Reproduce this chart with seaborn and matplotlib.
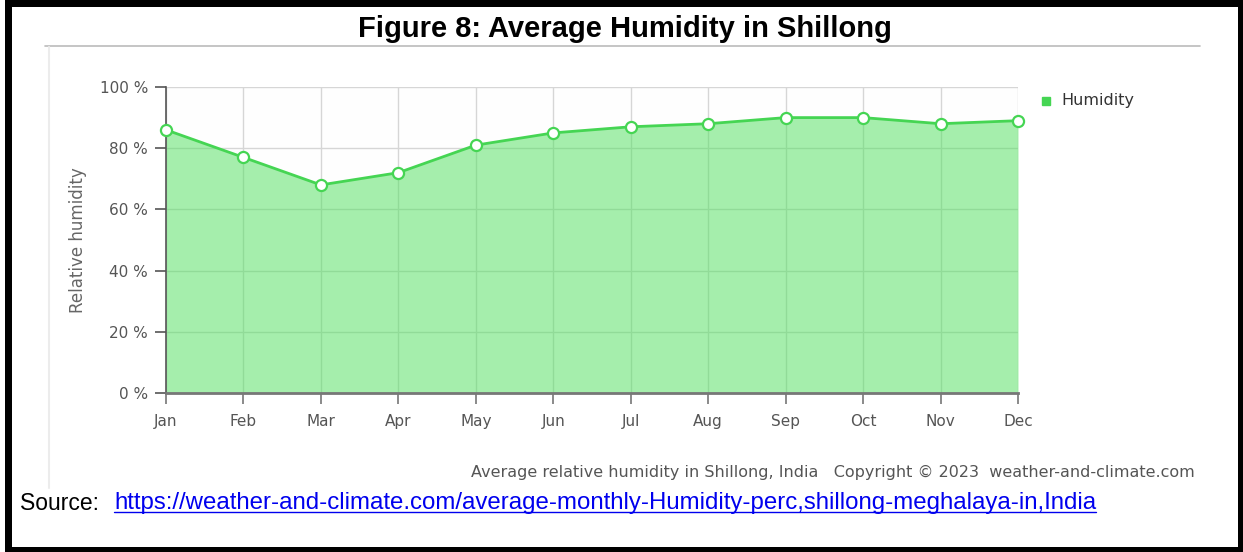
import matplotlib
matplotlib.use("Agg")
import matplotlib.pyplot as plt
import seaborn as sns
import pandas as pd
from matplotlib.patches import Rectangle
from matplotlib.lines import Line2D

months = ["Jan", "Feb", "Mar", "Apr", "May", "Jun", "Jul", "Aug", "Sep", "Oct", "Nov", "Dec"]
humidity = [86, 77, 68, 72, 81, 85, 87, 88, 90, 90, 88, 89]
yticks = [0, 20, 40, 60, 80, 100]
ytick_labels = ["0 %", "20 %", "40 %", "60 %", "80 %", "100 %"]

title = "Figure 8: Average Humidity in Shillong"
caption = "Average relative humidity in Shillong, India   Copyright \u00a9 2023  weather-and-climate.com"
source_lbl = "Source: "
source_url = "https://weather-and-climate.com/average-monthly-Humidity-perc,shillong-meghalaya-in,India"

sns.set_theme(style="white")
plt.rcParams['font.family'] = ['DejaVu Sans']

W, H = 1243, 552
fig = plt.figure(figsize=(W / 100, H / 100), dpi=100)
fig.patch.set_facecolor("white")

def fx(px):
    return px / W

def fy(py):
    return 1 - py / H

ax = fig.add_axes([fx(166), fy(393), fx(1018) - fx(166), fy(87) - fy(393)])
ax.set_facecolor("#fefefe")

df = pd.DataFrame({"x": list(range(len(months))), "month": months, "h": humidity})
line_color = "#45d553"

ax.fill_between(df["x"], df["h"], 0, color="#4ee05c", alpha=0.5, lw=0, zorder=2)
sns.lineplot(data=df, x="x", y="h", ax=ax, color=line_color, lw=2, marker="o",
             markersize=8, markerfacecolor="white", markeredgecolor=line_color,
             markeredgewidth=1.6, zorder=4, clip_on=False)

ax.set_xlim(0, len(months) - 1)
ax.set_ylim(0, 100)
ax.set_xticks(df["x"])
ax.set_xticklabels(months, fontsize=11, color="#555555")
ax.set_yticks(yticks)
ax.set_yticklabels(ytick_labels, fontsize=11, color="#555555")
ax.set_xlabel("")
ax.set_ylabel("Relative humidity", fontsize=12, color="#666666", labelpad=9)

ax.set_axisbelow(True)
ax.grid(True, color="#d6d6d6", lw=1)
for s in ["top", "right"]:
    ax.spines[s].set_visible(False)
ax.spines["left"].set_color("#555555")
ax.spines["left"].set_linewidth(1.2)
ax.spines["bottom"].set_color("#777777")
ax.spines["bottom"].set_linewidth(2)
ax.tick_params(axis="x", length=8, width=1.2, color="#777777", direction="out", pad=7, bottom=True)
ax.tick_params(axis="y", length=8, width=1.2, color="#555555", direction="out", pad=5, left=True)

# legend
fig.add_artist(Line2D([fx(1046)], [fy(101)], marker="s", markersize=6, color=line_color,
                      lw=0, transform=fig.transFigure))
fig.text(fx(1061), fy(101), "Humidity", fontsize=11.5, color="#333333", va="center", ha="left")

# title & separator
fig.text(fx(625), fy(29), title, fontsize=21, fontweight="bold", color="black",
         ha="center", va="center", family=["Liberation Sans", "DejaVu Sans"])
fig.add_artist(Line2D([fx(45), fx(1200)], [fy(46), fy(46)], color="#bbbbbb", lw=1.2,
                      transform=fig.transFigure))
fig.add_artist(Line2D([fx(49), fx(49)], [fy(47), fy(488)], color="#ececec", lw=1.5,
                      transform=fig.transFigure))

# caption
fig.text(fx(1195), fy(472), caption, fontsize=11.5, color="#555555", ha="right", va="center")

# source
t1 = fig.text(fx(20), fy(503), source_lbl, fontsize=16.5, color="black", ha="left", va="center",
              family=["Liberation Sans", "DejaVu Sans"])
t2 = fig.text(fx(114), fy(503), source_url, fontsize=17.3, color="#0000ee", ha="left", va="center",
              family=["Liberation Sans", "DejaVu Sans"])
fig.canvas.draw()
r = fig.canvas.get_renderer()
bb2 = t2.get_window_extent(renderer=r)
uy = bb2.y0 + 2
fig.add_artist(Line2D([bb2.x0 / W, bb2.x1 / W], [uy / H, uy / H], color="#0000ee", lw=1,
                      transform=fig.transFigure))

# outer black border (left, top, right, bottom bars)
for (x0, y0, x1, y1) in [(5, 0, 12, 552), (5, 0, 1243, 7), (1238, 0, 1243, 552), (5, 547, 1243, 552)]:
    fig.add_artist(Rectangle((fx(x0), fy(y1)), fx(x1) - fx(x0), fy(y0) - fy(y1),
                             transform=fig.transFigure, color="black", lw=0))

fig.savefig("out.png", dpi=100, facecolor="white")
